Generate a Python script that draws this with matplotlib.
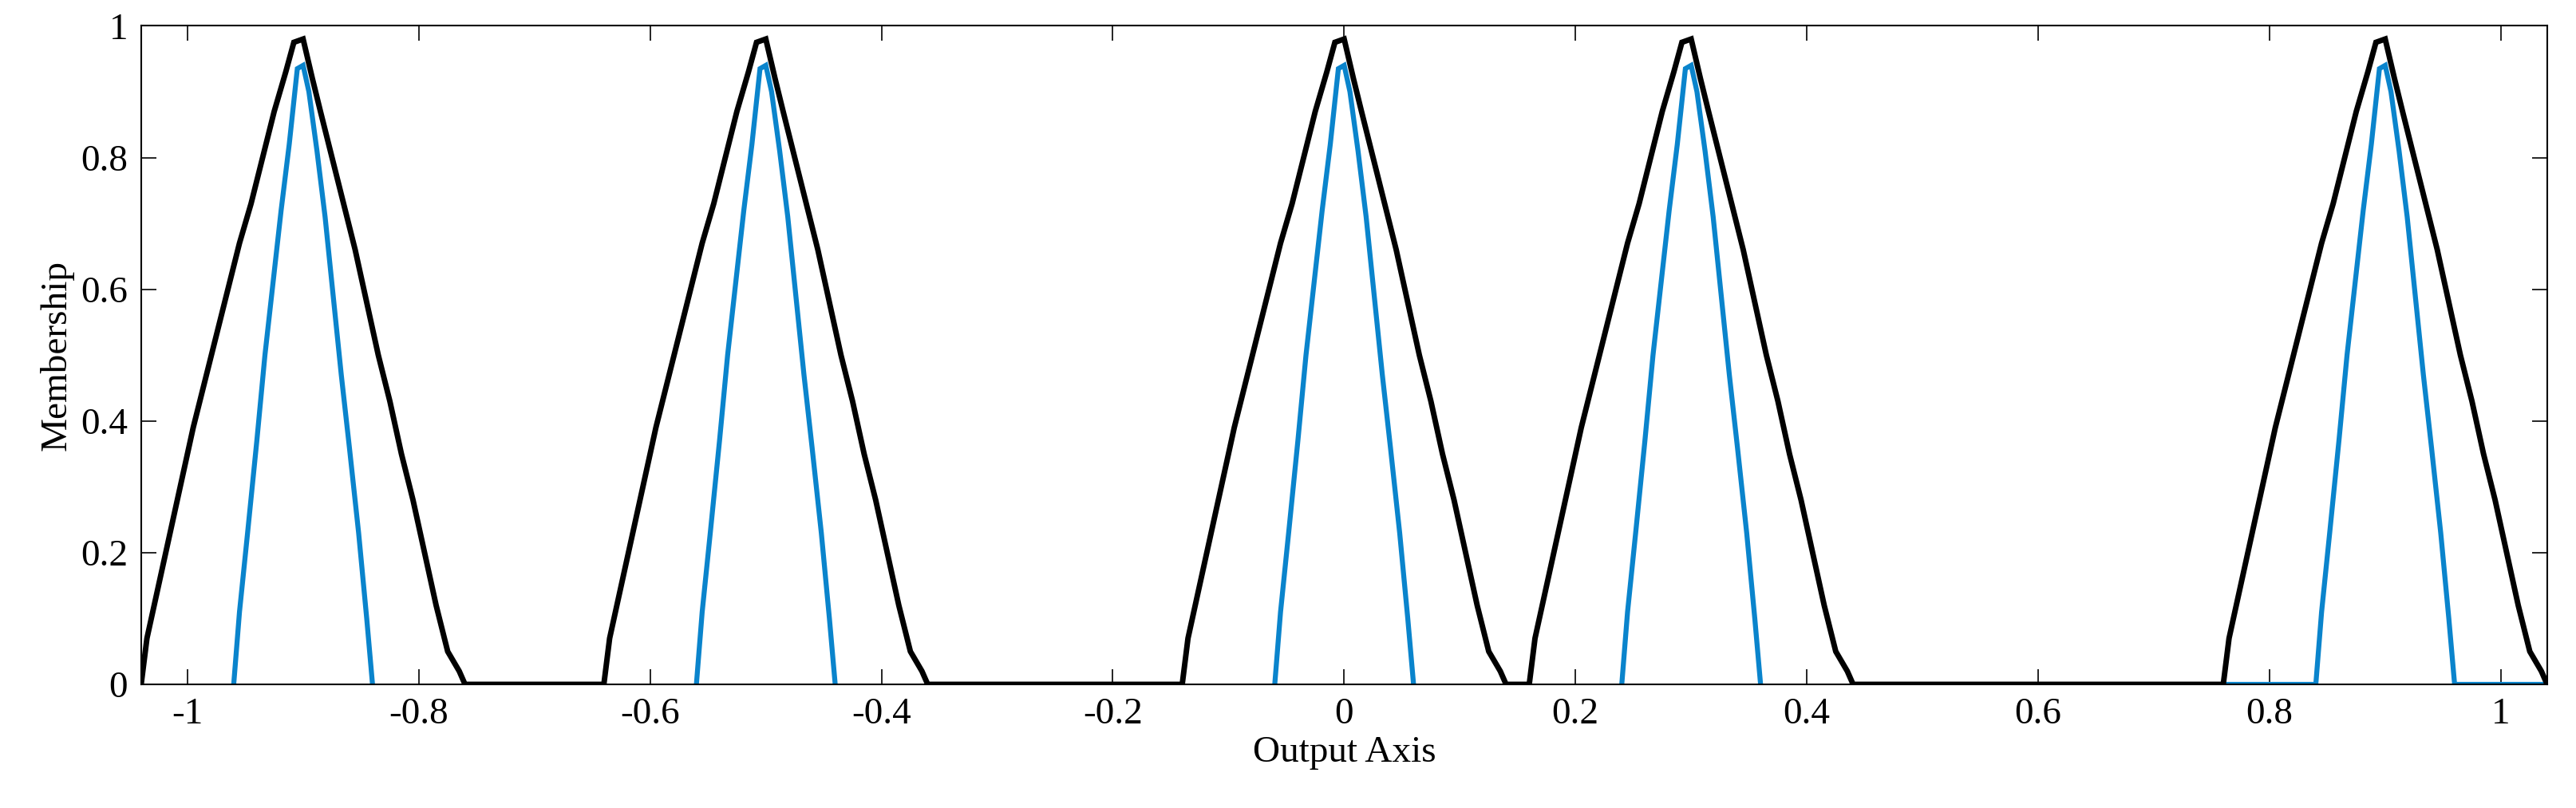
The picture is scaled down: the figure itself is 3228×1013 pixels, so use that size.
import matplotlib.pyplot as plt

plt.rcParams['font.family'] = ['Liberation Serif', 'DejaVu Serif']
plt.rcParams['axes.unicode_minus'] = False

# peak centres of the membership functions
centers = [-0.9, -0.5, 0.0, 0.3, 0.9]

# black (wide) triangle, offsets from centre and membership
black_dx = [-0.140, -0.135, -0.125, -0.115, -0.105, -0.095, -0.085, -0.075, -0.065,
            -0.055, -0.045, -0.035, -0.025, -0.015, -0.008, 0.0, 0.008, 0.015,
            0.025, 0.035, 0.045, 0.055, 0.065, 0.075, 0.085, 0.095, 0.105,
            0.115, 0.125, 0.135, 0.140]
black_y = [0.0, 0.07, 0.15, 0.23, 0.31, 0.39, 0.46, 0.53, 0.60,
           0.67, 0.73, 0.80, 0.87, 0.93, 0.975, 0.98, 0.92, 0.87,
           0.80, 0.73, 0.66, 0.58, 0.50, 0.43, 0.35, 0.28, 0.20,
           0.12, 0.05, 0.02, 0.0]

# blue (narrow) triangle
blue_dx = [-0.060, -0.055, -0.048, -0.040, -0.033, -0.026, -0.019, -0.012, -0.005, 0.0,
           0.005, 0.012, 0.019, 0.026, 0.033, 0.040, 0.048, 0.055, 0.060]
blue_y = [0.0, 0.11, 0.23, 0.37, 0.50, 0.61, 0.72, 0.82, 0.935, 0.94,
          0.90, 0.81, 0.71, 0.59, 0.47, 0.36, 0.23, 0.10, 0.0]

x_min, x_max = -1.04, 1.04

# build black series over whole axis (zero in between peaks)
bx, by = [], []
for c in centers:
    bx += [c + d for d in black_dx]
    by += black_y

fig = plt.figure(figsize=(32.28, 10.13), dpi=100)
ax = fig.add_axes([0.0548, 0.153, 0.934, 0.815])

blue = '#0A84CC'
for i, c in enumerate(centers):
    xs = [c + d for d in blue_dx]
    ys = list(blue_y)
    if i == len(centers) - 1:
        xs = [c - 0.14] + xs + [c + 0.14]
        ys = [0.0] + ys + [0.0]
    ax.plot(xs, ys, color=blue, lw=4.5, solid_joinstyle='miter', zorder=2)

ax.plot(bx, by, color='black', lw=5, solid_joinstyle='miter', zorder=3)

ax.set_xlim(x_min, x_max)
ax.set_ylim(0, 1)
ax.set_xticks([-1, -0.8, -0.6, -0.4, -0.2, 0, 0.2, 0.4, 0.6, 0.8, 1])
ax.set_xticklabels(['-1', '-0.8', '-0.6', '-0.4', '-0.2', '0', '0.2', '0.4', '0.6', '0.8', '1'])
ax.set_yticks([0, 0.2, 0.4, 0.6, 0.8, 1])
ax.set_yticklabels(['0', '0.2', '0.4', '0.6', '0.8', '1'])
ax.tick_params(direction='in', top=True, right=True, length=14, width=1.2,
               labelsize=34, pad=12)
for s in ax.spines.values():
    s.set_linewidth(1.5)

ax.set_xlabel('Output Axis', fontsize=34, labelpad=4)
ax.set_ylabel('Membership', fontsize=34, labelpad=6)

fig.savefig('out.png', dpi=100, facecolor='white')
